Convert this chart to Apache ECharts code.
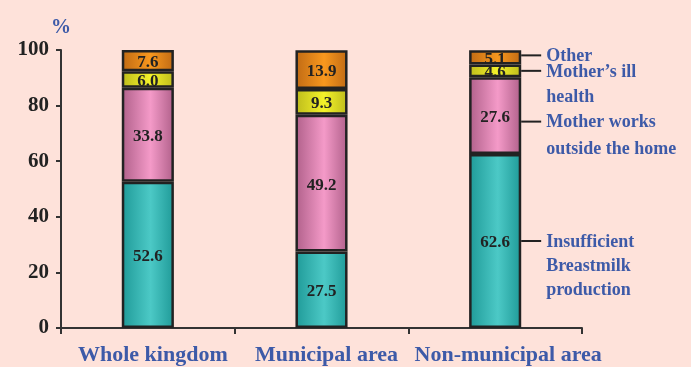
<!DOCTYPE html>
<html><head><meta charset="utf-8">
<script src="https://cdn.jsdelivr.net/npm/echarts@6/dist/echarts.min.js"></script>
<style>html,body{margin:0;padding:0;background:#fee2da;}#c{width:691px;height:367px;}</style>
</head><body><div id="c"></div>
<script>
var categories = ['Whole kingdom', 'Municipal area', 'Non-municipal area'];
var insufficient = [52.6, 27.5, 62.6];
var motherWorks = [33.8, 49.2, 27.6];
var illHealth = [6.0, 9.3, 4.6];
var other = [7.6, 13.9, 5.1];
var yTicks = [0, 20, 40, 60, 80, 100];
var seriesNames = ['Insufficient\nBreastmilk\nproduction', 'Mother works\noutside the home', 'Mother\u2019s ill\nhealth', 'Other'];

function grad(dark, light) {
  return new echarts.graphic.LinearGradient(0, 0, 1, 0, [
    {offset: 0, color: dark}, {offset: 0.55, color: light}, {offset: 1, color: dark}
  ]);
}
var colors = [grad('#1f9a98', '#4cc9c6'), grad('#b0608a', '#f49ac8'), grad('#bdbb1c', '#f4f22a'), grad('#c06a14', '#f8981e')];
var serif = '"Liberation Serif", "Times New Roman", serif';
var datasets = [insufficient, motherWorks, illHealth, other];

var chart = echarts.init(document.getElementById('c'), null, {renderer: 'canvas'});
var series = datasets.map(function (d, i) {
  return {
    name: seriesNames[i], type: 'bar', stack: 'a', data: d, barWidth: '30%',
    itemStyle: {color: colors[i], borderColor: '#222', borderWidth: 2.5},
    label: {show: true, position: 'inside', offset: [0, 2], formatter: function (p) { return p.value.toFixed(1); },
      color: '#222', fontFamily: serif, fontWeight: 'bold', fontSize: 17}
  };
});
var catText = {color: '#3d5aa8', fontFamily: serif, fontWeight: 'bold', fontSize: 22};
chart.setOption({
  backgroundColor: '#fee2da',
  animation: false,
  grid: {left: 61, right: 109, top: 50, bottom: 39},
  xAxis: {type: 'category', data: categories,
    axisLine: {lineStyle: {color: '#333', width: 2}},
    axisTick: {show: true, length: 6, lineStyle: {color: '#333', width: 2}},
    axisLabel: {color: '#3d5aa8', fontFamily: serif, fontWeight: 'bold', fontSize: 22, margin: 16, interval: 0,
      formatter: function (v, i) { return '{c' + i + '|' + v + '}'; },
      rich: {
        c0: Object.assign({padding: [0, 0, 0, 10]}, catText),
        c1: Object.assign({padding: [0, 0, 0, 10]}, catText),
        c2: Object.assign({padding: [0, 0, 0, 26]}, catText)
      }}},
  yAxis: {type: 'value', min: 0, max: 100, interval: 20,
    name: '%', nameLocation: 'end', nameGap: 12,
    nameTextStyle: {color: '#3d5aa8', fontFamily: serif, fontWeight: 'bold', fontSize: 20, align: 'center'},
    axisLine: {show: true, lineStyle: {color: '#333', width: 2}},
    axisTick: {show: true, length: 5, lineStyle: {color: '#333', width: 2}},
    splitLine: {show: false},
    axisLabel: {color: '#222', fontFamily: serif, fontWeight: 'bold', fontSize: 21, margin: 12,
      formatter: function (v) { return yTicks.indexOf(v) >= 0 ? String(v) : ''; }}},
  series: series
});

// annotations for the third bar, positioned via the chart's scales
var gs = [];
var last = categories.length - 1;
var cum = 0;
var barRight = chart.convertToPixel({xAxisIndex: 0}, categories[last]) + 26;
var lineHeights = [24, 27, 25, 24];
datasets.forEach(function (d, i) {
  var mid = cum + d[last] / 2;
  cum += d[last];
  var y = chart.convertToPixel({yAxisIndex: 0}, mid);
  if (i === 1) y += 6;
  if (i === 3) y -= 2;
  if (i === 2) y -= 0;
  gs.push({type: 'line', shape: {x1: barRight, y1: y, x2: barRight + 20, y2: y}, style: {stroke: '#222', lineWidth: 2}});
  gs.push({type: 'text', x: barRight + 25, y: y - lineHeights[i] / 2 + 1,
    style: {text: seriesNames[i], fill: '#3d5aa8', font: 'bold 18px ' + serif, lineHeight: lineHeights[i], textAlign: 'left'}});
});
chart.setOption({graphic: gs});
</script></body></html>
